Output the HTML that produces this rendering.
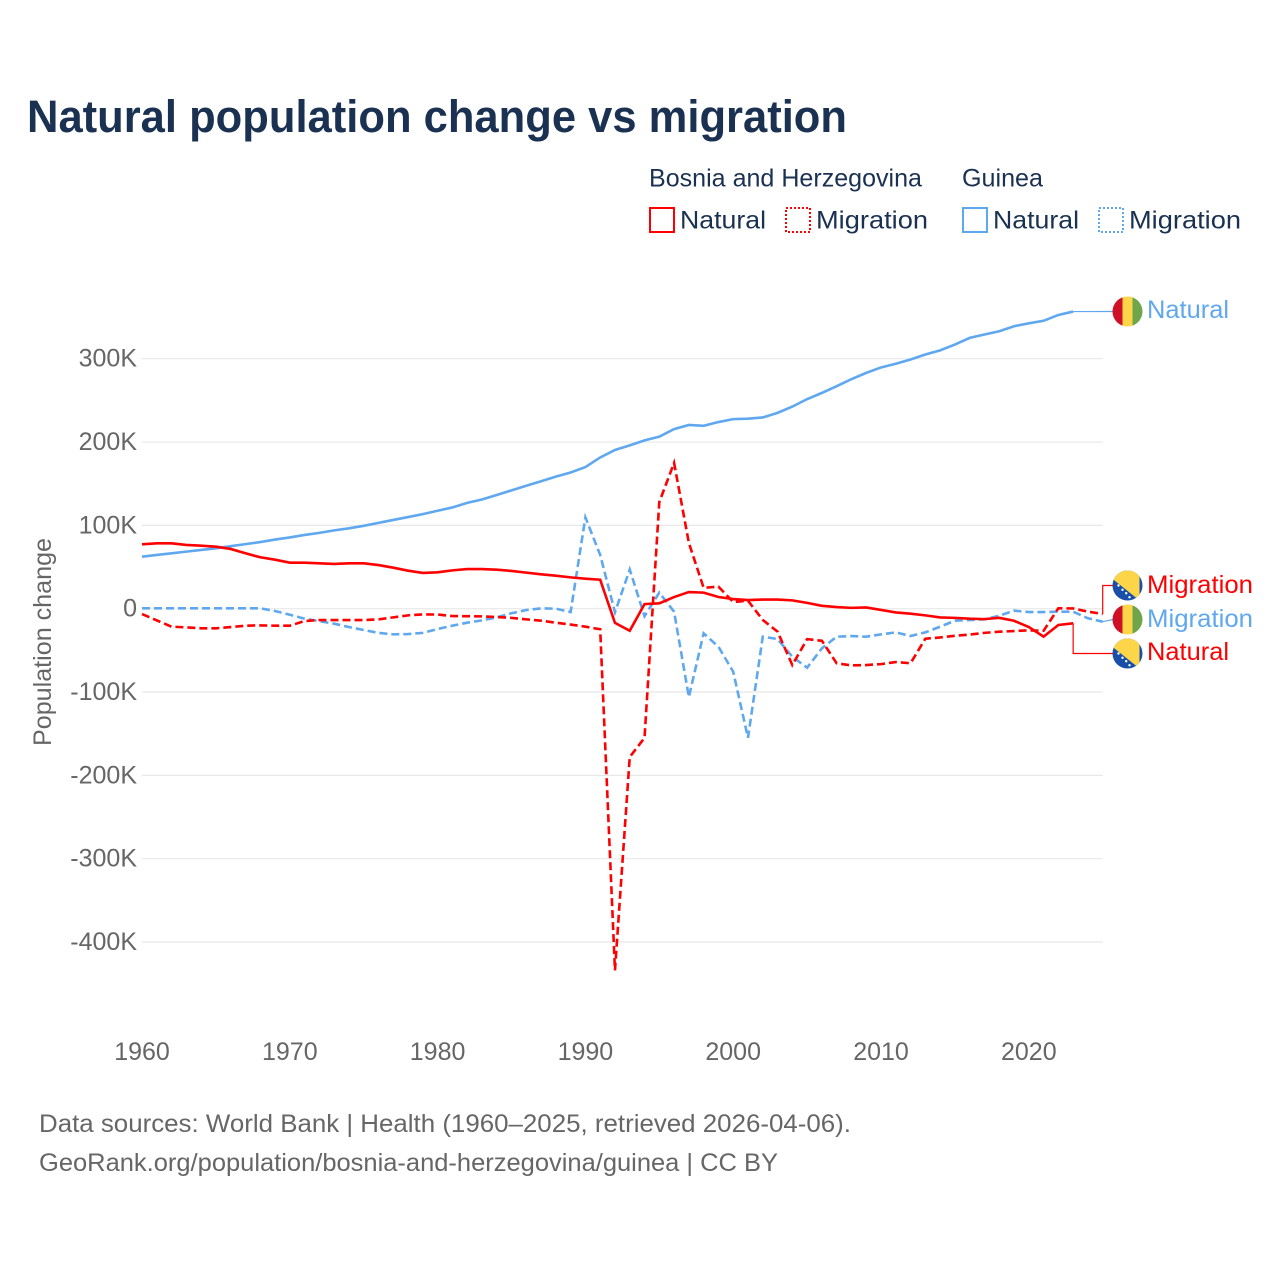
<!DOCTYPE html>
<html lang="en">
<head>
<meta charset="utf-8">
<title>Natural population change vs migration</title>
<style>
html,body{margin:0;padding:0;background:#fff;}
#chart{display:block;width:1280px;height:1280px;font-family:"Liberation Sans",sans-serif;}
.ink{fill:#1a3152;}
.muted{fill:#666;}
</style>
</head>
<body>
<svg id="chart" xmlns="http://www.w3.org/2000/svg" width="1280" height="1280" viewBox="0 0 1280 1280">
  <rect width="1280" height="1280" fill="#fff"/>
  <text class="ink" x="27" y="132" font-size="45" font-weight="700" textLength="820" lengthAdjust="spacingAndGlyphs">Natural population change vs migration</text>

  <g font-size="25">
    <text class="ink" x="649" y="186.5" textLength="273" lengthAdjust="spacingAndGlyphs">Bosnia and Herzegovina</text>
    <text class="ink" x="962" y="186.5" textLength="81" lengthAdjust="spacingAndGlyphs">Guinea</text>
    <rect x="650" y="208" width="24" height="24" fill="none" stroke="#ff0000" stroke-width="2"/>
    <text class="ink" x="680" y="228.5" textLength="86" lengthAdjust="spacingAndGlyphs">Natural</text>
    <rect x="786" y="208" width="24" height="24" fill="none" stroke="#ff0000" stroke-width="2" stroke-dasharray="2 2"/>
    <text class="ink" x="816" y="228.5" textLength="112" lengthAdjust="spacingAndGlyphs">Migration</text>
    <rect x="963" y="208" width="24" height="24" fill="none" stroke="#5fa8ef" stroke-width="2"/>
    <text class="ink" x="993" y="228.5" textLength="86" lengthAdjust="spacingAndGlyphs">Natural</text>
    <rect x="1099" y="208" width="24" height="24" fill="none" stroke="#5fa8ef" stroke-width="2" stroke-dasharray="2 2"/>
    <text class="ink" x="1129" y="228.5" textLength="112" lengthAdjust="spacingAndGlyphs">Migration</text>
  </g>

  <g id="grid"></g>
  <g id="y-ticks" class="muted" font-size="25" text-anchor="end"></g>
  <g id="x-ticks" class="muted" font-size="25" text-anchor="middle"></g>
  <text class="muted" font-size="25" transform="translate(51,746) rotate(-90)" textLength="208" lengthAdjust="spacingAndGlyphs">Population change</text>

  <g id="leaders" fill="none" stroke-width="1.2"></g>
  <g id="series" fill="none" stroke-width="2.6" stroke-linejoin="miter"></g>

  <defs>
    <clipPath id="flag-clip"><circle cx="0" cy="0" r="15"/></clipPath>
    <g id="flag-guinea">
      <g clip-path="url(#flag-clip)">
        <rect x="-15" y="-15" width="10" height="30" fill="#ce1126"/>
        <rect x="-5" y="-15" width="10" height="30" fill="#fcd548"/>
        <rect x="5" y="-15" width="10" height="30" fill="#6fa64c"/>
      </g>
    </g>
    <g id="flag-bosnia">
      <g clip-path="url(#flag-clip)">
        <rect x="-15" y="-15" width="30" height="30" fill="#1a4fa8"/>
        <polygon points="-18,-9 -18,-15 12,-15 12,15" fill="#fcd548"/>
        <g fill="#fff">
          <circle cx="-9" cy="0" r="1.2"/>
          <circle cx="-5" cy="4.3" r="1.2"/>
          <circle cx="-1.3" cy="7.7" r="1.2"/>
          <circle cx="2" cy="11.7" r="1.2"/>
        </g>
      </g>
    </g>
  </defs>

  <g font-size="25">
    <use href="#flag-guinea" x="1127.5" y="311.5"/>
    <text x="1147" y="318" fill="#5fa8ef" textLength="82" lengthAdjust="spacingAndGlyphs">Natural</text>
    <use href="#flag-bosnia" x="1127.5" y="585.5"/>
    <text x="1147" y="593" fill="#ff0000" textLength="106" lengthAdjust="spacingAndGlyphs">Migration</text>
    <use href="#flag-guinea" x="1127.5" y="619.5"/>
    <text x="1147" y="627" fill="#5fa8ef" textLength="106" lengthAdjust="spacingAndGlyphs">Migration</text>
    <use href="#flag-bosnia" x="1127.5" y="653.5"/>
    <text x="1147" y="660" fill="#ff0000" textLength="82" lengthAdjust="spacingAndGlyphs">Natural</text>
  </g>

  <g class="muted" font-size="25">
    <text x="39" y="1132" textLength="812" lengthAdjust="spacingAndGlyphs">Data sources: World Bank | Health (1960–2025, retrieved 2026-04-06).</text>
    <text x="39" y="1171" textLength="739" lengthAdjust="spacingAndGlyphs">GeoRank.org/population/bosnia-and-herzegovina/guinea | CC BY</text>
  </g>
</svg>

<script>
const startYear = 1960;
const yTickValues = [300, 200, 100, 0, -100, -200, -300, -400];
const yTickLabels = ["300K", "200K", "100K", "0", "-100K", "-200K", "-300K", "-400K"];
const xTickValues = [1960, 1970, 1980, 1990, 2000, 2010, 2020];

// Values in thousands, one per year starting 1960.
const guineaNatural = [62.4,64.5,66.5,68.5,70.5,72.5,75,77.5,80,83,85.5,88.5,91,94,96.5,99.5,103,106.5,110,113.5,117.5,121.5,127,131,136.5,142,147.5,153,158.5,163.5,170,181.5,190.5,196,202,206.5,215.5,220.5,219.5,224,227.5,228,229.5,235,242.5,251.5,259,267,275.5,283,289.5,294,299,305,310,317,325,329,333,339,342.5,345.5,352.5,356.6];
const bosniaNatural = [77.3,78.5,78.5,76.5,75.6,74.4,71.7,66.5,61.7,58.8,55.2,55.2,54.5,53.7,54.5,54.5,52.4,49.2,45.6,42.9,43.7,46,47.6,47.6,46.8,45.3,43.3,41.3,39.6,37.6,36,34.8,-17,-26.5,5.5,6.5,14,20,19.3,14,11.6,10.4,11,11,10,7,3.5,2,1,1.5,-1.5,-4.5,-6,-8,-10.5,-11,-12,-12.5,-11,-14.5,-22,-33.5,-19.5,-17.5];
const guineaMigration = [0.5,0.5,0.5,0.5,0.5,0.5,0.5,0.5,0.5,-2.8,-7.2,-12,-15,-18,-22,-25.6,-29,-30.8,-30.4,-29,-24.4,-20.4,-16.8,-14,-10.4,-5.5,-1.6,0.4,0,-4,109.6,64.5,-4.3,47,-9,19.3,-3.6,-106,-29.6,-45.6,-75.6,-155,-33.6,-36.4,-57.6,-70.8,-47.6,-33.6,-32.8,-33.6,-30.8,-28.4,-32.8,-28.4,-21.6,-14.4,-13.6,-12.8,-8.4,-2.4,-4,-4,-3.6,-3.6,-11.5,-15.6];
const bosniaMigration = [-6.4,-14,-21.6,-22.4,-23.5,-23.5,-22,-20.4,-20,-20.4,-20.4,-14.8,-13.6,-13.6,-13.6,-13.6,-12.8,-10.4,-8,-6.8,-7,-8.8,-9,-9.2,-10,-11,-12.8,-14.4,-16.8,-19,-21.6,-24.7,-434,-178,-155,128,175,79,25,26.5,8,9.6,-13.5,-27.5,-67.6,-36.5,-38.5,-65.5,-68,-67.6,-66.5,-64,-65.5,-36,-34.5,-32.5,-31,-29,-27.6,-26.8,-26,-26.5,0.5,0.3,-3.5,-6.4];

const svgNS = "http://www.w3.org/2000/svg";
const RED = "#ff0000";
const BLUE = "#5fa8ef";
const DASH = "8 4";

function xScale(year) { return 142 + (year - 1960) * 14.78; }
function yScale(v) { return 608.7 - v * 0.8333; }
function linePath(values) {
  return values.map(function (v, i) {
    return (i ? "L" : "M") + xScale(startYear + i).toFixed(2) + " " + yScale(v).toFixed(2);
  }).join("");
}

const grid = document.getElementById("grid");
const yTicks = document.getElementById("y-ticks");
yTickValues.forEach(function (v, i) {
  const ln = document.createElementNS(svgNS, "line");
  
  
  ln.setAttribute("x1", xScale(1960));
  ln.setAttribute("x2", xScale(2025));
  ln.setAttribute("y1", yScale(v));
  ln.setAttribute("y2", yScale(v));
  ln.setAttribute("stroke", "#e8e8e8");
  ln.setAttribute("stroke-width", "1.2");
  grid.appendChild(ln);

  const t = document.createElementNS(svgNS, "text");
  
  
  t.setAttribute("x", 137);
  t.setAttribute("y", yScale(v) + 8);
  t.textContent = yTickLabels[i];
  yTicks.appendChild(t);
});

const xTicks = document.getElementById("x-ticks");
xTickValues.forEach(function (yr) {
  const t = document.createElementNS(svgNS, "text");
  
  
  t.setAttribute("x", xScale(yr));
  t.setAttribute("y", 1060);
  t.textContent = yr;
  xTicks.appendChild(t);
});

function addLeader(parent, name, color, d) {
  const p = document.createElementNS(svgNS, "path");
  
  
  p.setAttribute("d", d);
  p.setAttribute("stroke", color);
  parent.appendChild(p);
}
const leaders = document.getElementById("leaders");
function lastX(arr) { return xScale(startYear + arr.length - 1); }
function lastY(arr) { return yScale(arr[arr.length - 1]); }
addLeader(leaders, "guinea-natural-leader", BLUE, "M" + lastX(guineaNatural) + " " + lastY(guineaNatural) + "L1113 311.5");
addLeader(leaders, "bosnia-migration-leader", RED, "M" + lastX(bosniaMigration) + " " + lastY(bosniaMigration) + "V585.5H1113");
addLeader(leaders, "guinea-migration-leader", BLUE, "M" + lastX(guineaMigration) + " " + lastY(guineaMigration) + "L1113 619.5");
addLeader(leaders, "bosnia-natural-leader", RED, "M" + lastX(bosniaNatural) + " " + lastY(bosniaNatural) + "V653.5H1113");

const seriesGroup = document.getElementById("series");
function addSeries(name, values, color, dash) {
  const p = document.createElementNS(svgNS, "path");
  
  
  p.setAttribute("d", linePath(values));
  p.setAttribute("stroke", color);
  if (dash) p.setAttribute("stroke-dasharray", dash);
  seriesGroup.appendChild(p);
}
addSeries("guinea-natural-line", guineaNatural, BLUE, null);
addSeries("guinea-migration-line", guineaMigration, BLUE, DASH);
addSeries("bosnia-migration-line", bosniaMigration, RED, DASH);
addSeries("bosnia-natural-line", bosniaNatural, RED, null);
</script>
</body>
</html>
